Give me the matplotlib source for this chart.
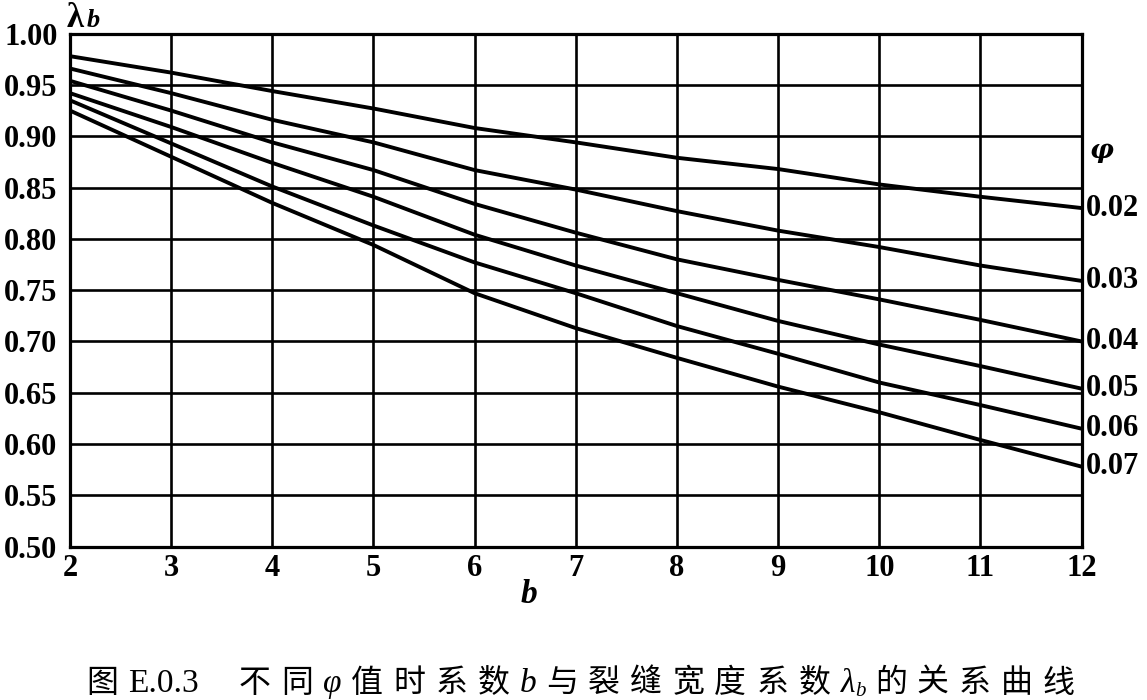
import matplotlib
matplotlib.use("Agg")
import matplotlib.pyplot as plt

b_values = [2, 3, 4, 5, 6, 7, 8, 9, 10, 11, 12]
phi_labels = ["0.02", "0.03", "0.04", "0.05", "0.06", "0.07"]
lam_002 = [0.978, 0.962, 0.944, 0.927, 0.908, 0.894, 0.879, 0.868, 0.853, 0.841, 0.830]
lam_003 = [0.966, 0.942, 0.916, 0.894, 0.867, 0.848, 0.827, 0.808, 0.792, 0.774, 0.759]
lam_004 = [0.954, 0.925, 0.894, 0.867, 0.834, 0.806, 0.780, 0.760, 0.741, 0.721, 0.700]
lam_005 = [0.942, 0.909, 0.874, 0.841, 0.804, 0.774, 0.747, 0.720, 0.697, 0.676, 0.654]
lam_006 = [0.935, 0.893, 0.851, 0.813, 0.777, 0.747, 0.715, 0.688, 0.660, 0.638, 0.615]
lam_007 = [0.925, 0.880, 0.835, 0.794, 0.747, 0.713, 0.684, 0.656, 0.631, 0.604, 0.578]
series = [lam_002, lam_003, lam_004, lam_005, lam_006, lam_007]
y_ticks = [0.50, 0.55, 0.60, 0.65, 0.70, 0.75, 0.80, 0.85, 0.90, 0.95, 1.00]
x_ticks = [2, 3, 4, 5, 6, 7, 8, 9, 10, 11, 12]
caption_tokens = ["图", "E.0.3", "不", "同", "φ", "值", "时", "系", "数", "b", "与", "裂", "缝",
                  "宽", "度", "系", "数", "λ", "的", "关", "系", "曲", "线"]

W, H = 1147, 700
fig = plt.figure(figsize=(W / 100, H / 100), dpi=100)
ax = fig.add_axes([0.061, 0.219, 0.882, 0.733])

serif = "Liberation Serif"
ax.set_xlim(2, 12)
ax.set_ylim(0.50, 1.00)
ax.set_xticks(x_ticks)
ax.set_yticks(y_ticks)
ax.set_xticklabels([str(v) for v in x_ticks], fontfamily=serif, fontweight="bold", fontsize=22)
ax.set_yticklabels([f"{v:.2f}" for v in y_ticks], fontfamily=serif, fontweight="bold", fontsize=22)
ax.tick_params(axis="y", length=0, pad=9)
ax.tick_params(axis="x", length=0, pad=5)
ax.grid(True, color="black", linewidth=1.9)
ax.set_axisbelow(True)
for s in ax.spines.values():
    s.set_linewidth(2.3)
    s.set_color("black")

for vals, lab in zip(series, phi_labels):
    ax.plot(b_values, vals, color="black", linewidth=2.8, solid_capstyle="butt")
    ax.annotate(lab, xy=(b_values[-1], vals[-1]), xytext=(3, 0), textcoords="offset points",
                ha="left", va="center", fontfamily=serif, fontweight="bold", fontsize=22,
                annotation_clip=False)

# phi header to the right of the plot
ax.annotate("\u03c6", xy=(12, 0.90), xytext=(6, -10), textcoords="offset points",
            ha="left", va="center", fontfamily="DejaVu Serif", fontweight="bold",
            fontstyle="italic", fontsize=19, annotation_clip=False)

# lambda_b label above the y axis
fig.text(67 / W, 1 - 27 / H, "\u03bb", fontfamily=serif, fontweight="bold",
         fontsize=25, ha="left", va="baseline")
fig.text(87 / W, 1 - 27 / H, "b", fontfamily=serif, fontweight="bold",
         fontstyle="italic", fontsize=19, ha="left", va="baseline")

ax.set_xlabel("b", fontfamily=serif, fontweight="bold", fontstyle="italic", fontsize=24)
ax.xaxis.set_label_coords((529 - 70) / 1012, -0.062)

# caption, laid out token by token with even tracking
renderer = fig.canvas.get_renderer()
cjk = ["Noto Sans CJK SC", "DejaVu Sans"]
cap_size = 23
x_start, x_end, y_base = 86, 1075, 692
arts = []
for tok in caption_tokens:
    if tok in ("φ", "b", "λ"):
        kw = dict(fontfamily=serif, fontstyle="italic", fontsize=cap_size + 1)
    elif tok == "E.0.3":
        kw = dict(fontfamily=serif, fontsize=cap_size + 1)
    else:
        kw = dict(family=cjk, fontsize=cap_size)
    t = fig.text(0, 1 - y_base / H, tok, ha="left", va="baseline", **kw)
    arts.append((tok, t))
widths = [t.get_window_extent(renderer).width for _, t in arts]
sub_w = 10
extra_gap = 30
total = sum(widths) + sub_w + extra_gap
track = (x_end - x_start - total) / (len(arts) - 1)
x = x_start
for (tok, t), w in zip(arts, widths):
    t.set_x(x / W)
    x += w
    if tok == "λ":
        fig.text(x / W, 1 - (y_base + 4) / H, "b", fontfamily=serif, fontstyle="italic",
                 fontsize=cap_size - 8, ha="left", va="baseline")
        x += sub_w
    if tok == "E.0.3":
        x += extra_gap
    x += track

fig.savefig("out.png", dpi=100, facecolor="white")
